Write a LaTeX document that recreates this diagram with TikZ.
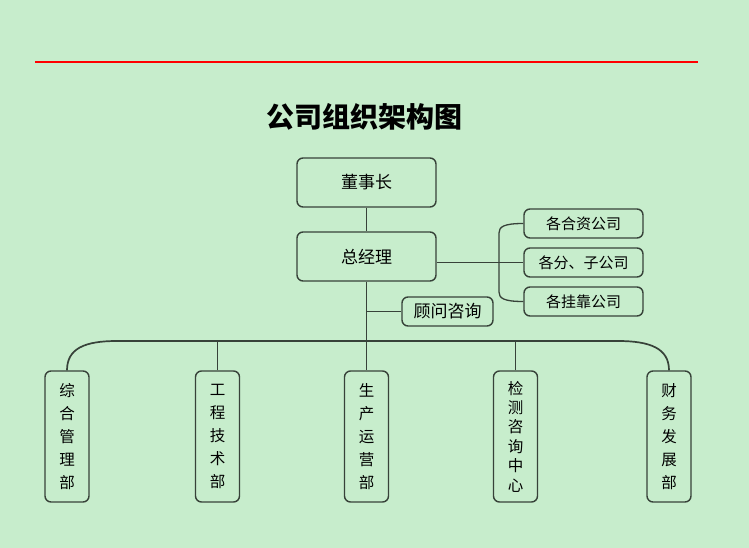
\documentclass[tikz,border=0pt]{standalone}
\usepackage{fontspec}
\setmainfont{Noto Sans CJK SC}
\usepackage{tikz}
\usetikzlibrary{calc}
\usetikzlibrary{positioning}
\definecolor{bgc}{RGB}{199,237,204}
\definecolor{linec}{RGB}{55,66,57}

\begin{document}
\begin{tikzpicture}[x=1pt, y=1pt]
	\tikzstyle{box}=[draw=linec, line width=1.4pt, rounded corners=6pt,
	                        inner sep=0pt, font=\fontsize{17}{19}\selectfont];
	\tikzstyle{dept}=[box, minimum width=44pt, minimum height=131pt, align=center];
	\tikzstyle{con}=[draw=linec, line width=1.3pt];
	\fill[bgc] (0,0) rectangle (749,-548);
	\useasboundingbox (0,0) rectangle (749,-548);
	\draw[red, line width=1.5pt] (35,-62) -- (698,-62);
	\node[font=\fontsize{28}{32}\selectfont\bfseries] (title) at (364.5,-117) {公司组织架构图};
	% top of the tree
	\node[box, minimum width=139pt, minimum height=49pt] (dsz) at (366.5,-182.5) {董事长};
	\node[box, minimum width=139pt, minimum height=49pt] (zjl) at (366.5,-256.5) {总经理};
	\node[box, minimum width=91pt, minimum height=29pt] (gwzx) at (447.5,-311.5) {顾问咨询};
	\foreach \n/\y/\t in {c1/223.5/各合资公司, c2/262.5/各分、子公司, c3/301.5/各挂靠公司}
	{\node[box, minimum width=119pt, minimum height=29pt,
	       font=\fontsize{15}{16}\selectfont] (\n) at (583.5,-\y) {\t};}
	% departments
	\node[dept, font=\fontsize{15.5}{23}\selectfont] (d1) at (67,-436.5) {综\\合\\管\\理\\部};
	\node[dept, font=\fontsize{15.5}{23}\selectfont] (d2) at (217.5,-436.5) {工\\程\\技\\术\\部};
	\node[dept, font=\fontsize{15.5}{23}\selectfont] (d3) at (366.5,-436.5) {生\\产\\运\\营\\部};
	\node[dept, font=\fontsize{15.5}{19.4}\selectfont] (d4) at (515.5,-436.5) {检\\测\\咨\\询\\中\\心};
	\node[dept, font=\fontsize{15.5}{23}\selectfont] (d5) at (669,-436.5) {财\\务\\发\\展\\部};
	% connectors
	\coordinate (busL) at (117,-341);
	\coordinate (busR) at (618,-341);
	\coordinate (brT) at (499,-233);
	\coordinate (brB) at (499,-292);
	\draw[con] (dsz) -- (zjl);
	\draw[con] (zjl) -- (d3);
	\draw[con] (zjl.south |- gwzx.west) -- (gwzx);
	\draw[con] (zjl.east |- c2.west) -- (c2.west);
	\draw[con] (c1.west) .. controls +(-20,0) and +(0,6) .. (brT) -- (brB)
	           .. controls +(0,-6) and +(-20,0) .. (c3.west);
	\draw[con, line width=1.7pt] (d1.north) .. controls +(0,22) and +(-32,0) .. (busL)
	           -- (busR) .. controls +(32,0) and +(0,22) .. (d5.north);
	\foreach \d in {d2, d4}
	{\draw[con] (\d.north) -- (\d.north |- busL);}
\end{tikzpicture}
\end{document}
